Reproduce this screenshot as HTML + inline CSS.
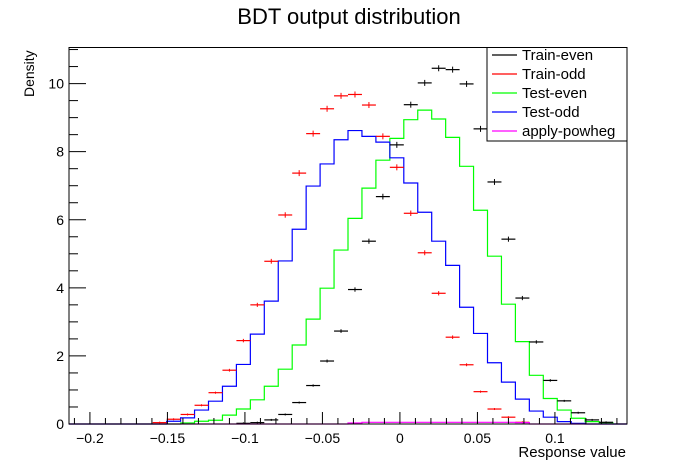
<!DOCTYPE html>
<html><head><meta charset="utf-8"><style>
body{margin:0;background:#fff;}
svg{display:block;font-family:"Liberation Sans",Arial,sans-serif;}
</style></head><body>
<svg id="c" width="696" height="472">
<text x="349" y="24" font-size="22" text-anchor="middle">BDT output distribution</text>
<text transform="translate(34,97) rotate(-90)" font-size="14" text-anchor="start">Density</text>
<text x="626" y="457" font-size="15" text-anchor="end">Response value</text>
<g id="marks"></g>
<rect x="69" y="47.5" width="558" height="376.5" fill="none" stroke="#000" stroke-width="1"/>
<g id="axes"></g>
<g>
<rect x="487" y="47.5" width="140" height="93.5" fill="#fff" stroke="#000"/>
<g id="leg"></g>
</g>
</svg>
<script>
const NB = 40, XMIN = -0.2135, XMAX = 0.1465, YMIN = 0, YMAX = 11.06;
const seriesNames = ["Train-even","Train-odd","Test-even","Test-odd","apply-powheg"];
const seriesColors = ["#000000","#ff0000","#00ff00","#0000ff","#ff00ff"];
const trainEven = [0,0,0,0,0,0,0,0,0,0,0,0,0.02,0.04,0.12,0.28,0.63,1.13,1.85,2.73,3.95,5.37,6.68,8.20,9.38,10.02,10.45,10.41,9.99,8.67,7.11,5.43,3.70,2.41,1.28,0.68,0.33,0.12,0.05,0];
const trainOdd = [0,0,0,0,0,0,0.04,0.14,0.28,0.55,0.92,1.58,2.45,3.50,4.78,6.14,7.37,8.53,9.26,9.64,9.68,9.37,8.45,7.54,6.19,5.03,3.84,2.55,1.74,0.95,0.44,0.20,0.05,0,0,0,0,0,0,0];
const testEven = [0,0,0,0,0,0,0,0,0.03,0.08,0.11,0.26,0.44,0.71,1.11,1.61,2.32,3.08,3.99,5.11,6.04,6.93,7.75,8.39,8.94,9.22,8.96,8.42,7.57,6.28,4.93,3.52,2.42,1.43,0.75,0.41,0.17,0.07,0.03,0];
const testOdd = [0,0,0,0,0,0,0,0.08,0.18,0.41,0.67,1.11,1.75,2.64,3.61,4.79,5.72,6.99,7.64,8.35,8.62,8.45,8.28,7.82,7.08,6.22,5.37,4.66,3.43,2.66,1.80,1.23,0.73,0.38,0.20,0.07,0.02,0,0,0];
const powheg = [0,0,0,0,0,0,0,0,0,0,0,0,0,0,0,0,0,0,0,0,0.03,0.05,0.05,0.05,0.05,0.05,0.05,0.05,0.05,0.05,0.05,0.05,0.04,0,0,0,0,0,0,0];
const xTickVals = [-0.2,-0.15,-0.1,-0.05,0,0.05,0.1];
const xTickLabels = ["\u22120.2","\u22120.15","\u22120.1","\u22120.05","0","0.05","0.1"];
const yTickVals = [0,2,4,6,8,10];
const yTickLabels = ["0","2","4","6","8","10"];

const L=69,R=627,T=47.5,B=424;
const NS="http://www.w3.org/2000/svg";
function sx(v){return L+(v-XMIN)/(XMAX-XMIN)*(R-L);}
function sy(v){return B-(v-YMIN)/(YMAX-YMIN)*(B-T);}
function edge(k){return XMIN+k*(XMAX-XMIN)/NB;}
function mk(tag,attrs,parent){const e=document.createElementNS(NS,tag);for(const k in attrs)e.setAttribute(k,attrs[k]);parent.appendChild(e);return e;}
const marks=document.getElementById('marks'), axes=document.getElementById('axes'), leg=document.getElementById('leg');

function stepHist(vals,color,name){
  let d="M"+sx(edge(0))+","+sy(vals[0]);
  for(let k=0;k<NB;k++){
    d+=" L"+sx(edge(k))+","+sy(vals[k])+" L"+sx(edge(k+1))+","+sy(vals[k]);
  }
  const p=mk('path',{d:d,fill:'none',stroke:color,'stroke-width':1.2},marks);
  
  
}
function points(vals,color,name){
  const g=mk('g',{},marks);
  
  
  for(let k=0;k<NB;k++){
    const v=vals[k]; if(v<=0) continue;
    const y=sy(v), x=(sx(edge(k))+sx(edge(k+1)))/2;
    mk('line',{x1:sx(edge(k)),x2:sx(edge(k+1)),y1:y,y2:y,stroke:color,'stroke-width':1.2},g);
    const err=Math.min(3,Math.max(1,Math.sqrt(v)*1.1));
    mk('line',{x1:x,x2:x,y1:y-err,y2:y+err,stroke:color,'stroke-width':1},g);
  }
}
stepHist(testEven,seriesColors[2],'test-even-hist');
stepHist(testOdd,seriesColors[3],'test-odd-hist');
points(trainEven,seriesColors[0],'train-even-points');
points(trainOdd,seriesColors[1],'train-odd-points');
stepHist(powheg,seriesColors[4],'apply-powheg-hist');

for(let v=-0.21;v<=0.1465;v+=0.01){
  const vv=Math.round(v*100)/100; const x=sx(vv);
  const major=Math.abs(Math.round(vv*20)-vv*20)<1e-6;
  mk('line',{x1:x,x2:x,y1:B,y2:B-(major?12:6),stroke:'#000'},axes);
}
xTickVals.forEach((v,i)=>{
  const t=mk('text',{x:sx(v),y:443,'font-size':14,'text-anchor':'middle'},axes);
  t.textContent=xTickLabels[i];
  
  
});
for(let v=0;v<=11;v+=0.5){
  const y=sy(v); const major=(v%2===0);
  mk('line',{x1:L,x2:L+(major?17:9),y1:y,y2:y,stroke:'#000'},axes);
}
yTickVals.forEach((v,i)=>{
  const t=mk('text',{x:64,y:sy(v)+5,'font-size':14,'text-anchor':'end'},axes);
  t.textContent=yTickLabels[i];
  
  
});
seriesNames.forEach((n,i)=>{
  const y=55+i*19;
  const g=mk('g',{},leg);
  
  
  mk('line',{x1:492,x2:517,y1:y,y2:y,stroke:seriesColors[i],'stroke-width':1.2},g);
  const t=mk('text',{x:522,y:y+5,'font-size':15},g);
  t.textContent=n;
});
</script>
</body></html>
